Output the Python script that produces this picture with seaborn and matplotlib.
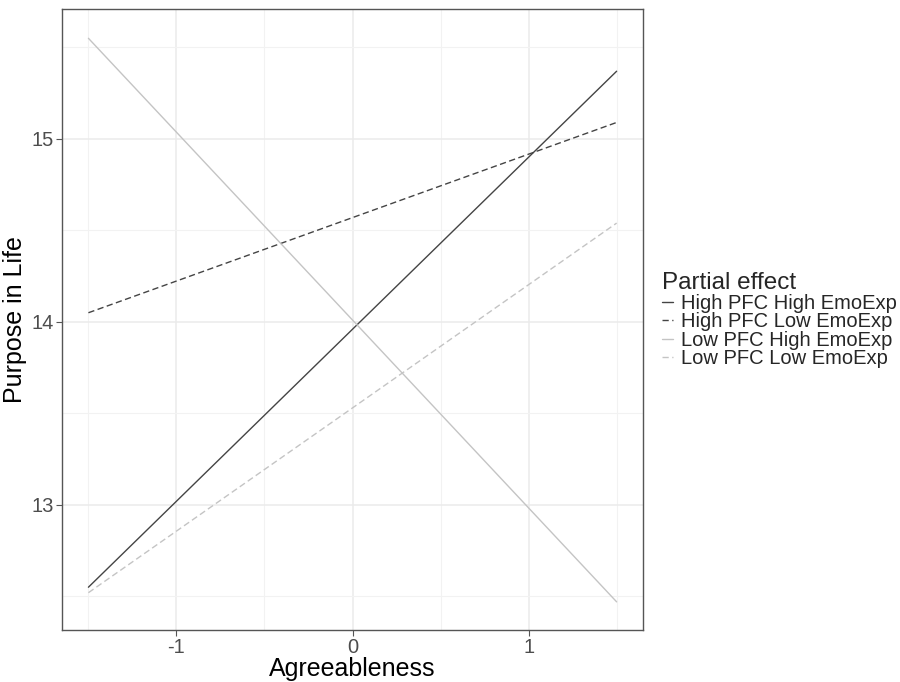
import matplotlib
matplotlib.use("Agg")
import matplotlib.pyplot as plt
from matplotlib.ticker import MultipleLocator
import seaborn as sns
import pandas as pd

# values (line end points at -1.5 SD and +1.5 SD)
agree = [-1.5, 1.5]
effects = [
    "High PFC High EmoExp",
    "High PFC Low EmoExp",
    "Low PFC High EmoExp",
    "Low PFC Low EmoExp",
]
high_pfc_high_emo = [12.55, 15.37]
high_pfc_low_emo = [14.05, 15.09]
low_pfc_high_emo = [15.55, 12.47]
low_pfc_low_emo = [12.52, 14.54]

series = [high_pfc_high_emo, high_pfc_low_emo, low_pfc_high_emo, low_pfc_low_emo]
df = pd.DataFrame({
    "Agreeableness": agree * len(effects),
    "Purpose in Life": [v for s in series for v in s],
    "Partial effect": [e for e in effects for _ in agree],
})

palette = {
    effects[0]: "#444444",
    effects[1]: "#444444",
    effects[2]: "#c4c4c4",
    effects[3]: "#c4c4c4",
}
dashes = {
    effects[0]: "",
    effects[1]: (4.5, 2.5),
    effects[2]: "",
    effects[3]: (4.5, 2.5),
}

sns.set_theme(style="white")
plt.rcParams["font.family"] = ["Liberation Sans", "DejaVu Sans"]

fig = plt.figure(figsize=(9, 6.82), dpi=100)
ax = fig.add_axes([0.0689, 0.0762, 0.6456, 0.9106])

sns.lineplot(
    data=df, x="Agreeableness", y="Purpose in Life",
    hue="Partial effect", style="Partial effect",
    palette=palette, dashes=dashes, hue_order=effects, style_order=effects,
    linewidth=1.0, ax=ax,
)

ax.set_xlim(-1.65, 1.65)
ax.set_ylim(12.316, 15.71)
ax.xaxis.set_minor_locator(MultipleLocator(0.5))
ax.yaxis.set_minor_locator(MultipleLocator(0.5))
ax.set_xticks([-1, 0, 1])
ax.set_xticklabels(["-1", "0", "1"])
ax.set_yticks([13, 14, 15])

ax.grid(True, which="major", color="#ebebeb", linewidth=1.1)
ax.grid(True, which="minor", color="#f2f2f2", linewidth=0.8)
ax.set_axisbelow(True)

for sp in ax.spines.values():
    sp.set_visible(True)
    sp.set_color("#555555")
    sp.set_linewidth(1.0)

ax.tick_params(axis="both", which="major", direction="out", length=4, width=0.8,
               color="#555555", labelcolor="#4d4d4d", labelsize=14.5, pad=2,
               bottom=True, left=True)
ax.tick_params(axis="both", which="minor", length=0)

ax.set_xlabel("Agreeableness", fontsize=18, color="black", labelpad=0)
ax.set_ylabel("Purpose in Life", fontsize=18, color="black", labelpad=3)

handles, labels = ax.get_legend_handles_labels()
ax.legend_.remove()
leg = fig.legend(
    handles, labels, title="Partial effect",
    loc="upper left", bbox_to_anchor=(662 / 900, 1 - 272 / 682),
    frameon=False, fontsize=14.5, title_fontsize=17.5,
    handlelength=0.55, handletextpad=0.4, labelspacing=-0.02,
    borderpad=0, borderaxespad=0, alignment="left",
)

fig.savefig("out.png", dpi=100)
